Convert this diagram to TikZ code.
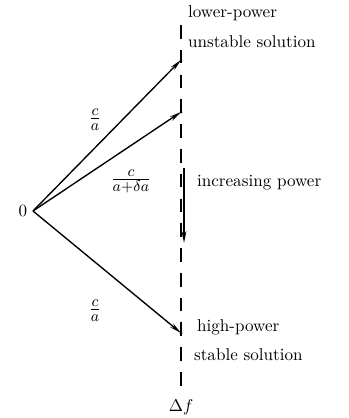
\documentclass[tikz,border=0pt]{standalone}
\usetikzlibrary{arrows.meta}
\begin{document}
\begin{tikzpicture}[x=0.585pt,y=-0.585pt,line width=0.8pt,
  font=\fontsize{10}{12}\selectfont,
  vec/.style={-{Stealth[length=7pt,width=2.8pt]}},
  axis/.style={line width=0.6pt,dash pattern=on 8pt off 6.5pt},
  lbl/.style={anchor=west,inner sep=2pt},
  frac/.style={font=\fontsize{13}{15}\selectfont,inner sep=1pt}]
\useasboundingbox (0,0) rectangle (349,418);
\coordinate (O) at (33,211);
\coordinate (U) at (181,60);
\coordinate (M) at (181,112);
\coordinate (L) at (181,333);
\coordinate (T) at (181,25);
\coordinate (IA) at (184,168);
\coordinate (IB) at (184,243);
\node (df) at (181,407) {$\Delta f$};
\node[left,inner sep=3pt] (zero) at (O) {0};
\draw[axis] (T) -- (df.north);
\draw[vec] (O) -- (U);
\draw[vec] (O) -- (M);
\draw[vec] (O) -- (L);
\foreach \p in {U,M,L} \fill (\p) circle (1.5);
\draw[vec] (IA) -- (IB);
\node[frac] (f1) at (95,120) {$\frac{c}{a}$};
\node[frac] (f2) at (131,181) {$\frac{c}{a+\delta a}$};
\node[frac] (f3) at (95,311) {$\frac{c}{a}$};
\node[lbl] (t1) at (184,13) {lower-power};
\node[lbl] (t2) at (184,42) {unstable solution};
\node[lbl] (t3) at (193,183) {increasing power};
\node[lbl] (t4) at (193,327) {high-power};
\node[lbl] (t5) at (190,355) {stable solution};
\end{tikzpicture}
\end{document}
